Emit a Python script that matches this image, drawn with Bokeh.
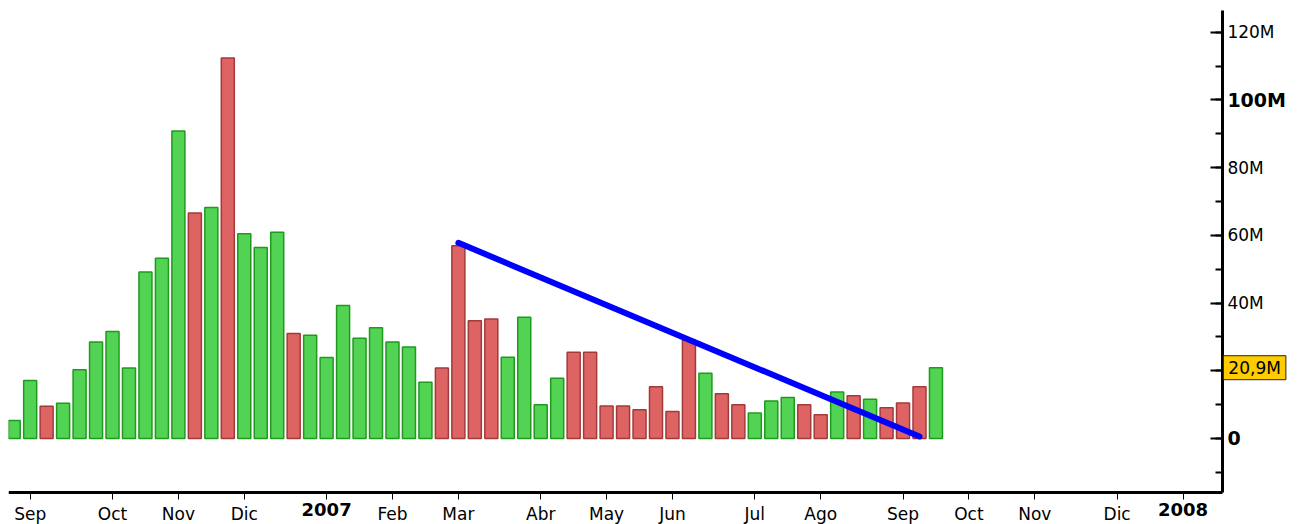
import pandas as pd
from bokeh.plotting import figure
from bokeh.models import Range1d, FixedTicker, SingleIntervalTicker, Label, ColumnDataSource, LinearAxis
from bokeh.embed import file_html
from bokeh.resources import INLINE

# Weekly volume (millions), week ending on Friday, starting 2006-08-25
first_week = "2006-08-25"
volume_m = [5.3, 17.1, 9.5, 10.4, 20.3, 28.5, 31.6, 20.8, 49.2, 53.2,
            90.8, 66.6, 68.2, 112.4, 60.5, 56.4, 60.9, 31.0, 30.5, 23.9,
            39.3, 29.6, 32.7, 28.5, 27.0, 16.6, 20.8, 56.9, 34.8, 35.3,
            24.0, 35.8, 10.0, 17.8, 25.5, 25.5, 9.6, 9.6, 8.5, 15.3,
            8.0, 29.1, 19.3, 13.2, 10.0, 7.5, 11.1, 12.1, 10.0, 7.0,
            13.7, 12.6, 11.6, 9.1, 10.5, 15.3, 20.9]
direction = ["up", "up", "down", "up", "up", "up", "up", "up", "up", "up",
             "up", "down", "up", "down", "up", "up", "up", "down", "up", "up",
             "up", "up", "up", "up", "up", "up", "down", "down", "down", "down",
             "up", "up", "up", "up", "down", "down", "down", "down", "down", "down",
             "down", "down", "up", "down", "down", "up", "up", "up", "down", "down",
             "up", "down", "up", "down", "down", "down", "up"]
month_names = ["", "Ene", "Feb", "Mar", "Abr", "May", "Jun", "Jul", "Ago", "Sep", "Oct", "Nov", "Dic"]
y_tick_labels = {120: "120M", 100: "100M", 80: "80M", 60: "60M", 40: "40M", 20: "20M", 0: "0"}
y_bold_ticks = [100, 0]
last_value_text = "20,9M"
trend_x = [27, 55]
trend_y = [57.8, 0.6]
n_axis_weeks = 74

# axis extents (data units)
x_axis_end = 73.39
y_axis_bottom = -15.95
y_axis_top = 126.4

weeks = pd.date_range(first_week, periods=n_axis_weeks, freq="W-FRI")
month_ticks, month_labels, year_ticks, year_labels = [], {}, [], {}
for i in range(1, n_axis_weeks):
    if weeks[i].month != weeks[i - 1].month:
        month_ticks.append(i)
        if weeks[i].month == 1:
            year_ticks.append(i)
            year_labels[i] = str(weeks[i].year)
            month_labels[i] = ""
        else:
            month_labels[i] = month_names[weeks[i].month]

fill_map = {"up": "#53d353", "down": "#de6464"}
line_map = {"up": "#1f9a1f", "down": "#a33a3a"}
src = ColumnDataSource(dict(
    x=list(range(len(volume_m))),
    top=volume_m,
    fill=[fill_map[d] for d in direction],
    line=[line_map[d] for d in direction],
))

p = figure(width=1295, height=524, output_backend="svg", toolbar_location=None,
           x_range=Range1d(-0.316, 77.83), y_range=Range1d(-25.40, 129.36),
           y_axis_location="right",
           min_border_left=8, min_border_right=0, min_border_top=0, min_border_bottom=0)
p.outline_line_color = None
p.xgrid.visible = False
p.ygrid.visible = False
p.background_fill_color = "white"
p.border_fill_color = "white"

p.vbar(x="x", top="top", bottom=0, width=0.79, fill_color="fill", line_color="line",
       line_width=1.5, source=src)
p.line(trend_x, trend_y, line_color="#0000ff", line_width=6, line_cap="round")

FONT = "DejaVu Sans"

# x axis (months)
xa = p.xaxis[0]
xa.fixed_location = y_axis_bottom
xa.bounds = (-0.316, x_axis_end)
xa.ticker = FixedTicker(ticks=month_ticks, minor_ticks=[])
xa.major_label_overrides = month_labels
xa.axis_line_width = 3
xa.axis_line_color = "black"
xa.major_tick_in = 0
xa.major_tick_out = 7
xa.major_tick_line_width = 1
xa.minor_tick_line_color = None
xa.major_label_standoff = 4
xa.major_label_text_font = FONT
xa.major_label_text_font_size = "17px"
xa.major_label_text_color = "black"

# x axis (bold years)
xy = LinearAxis(fixed_location=y_axis_bottom, bounds=(-0.316, x_axis_end),
                ticker=FixedTicker(ticks=year_ticks, minor_ticks=[]),
                major_label_overrides=year_labels,
                axis_line_color=None, major_tick_line_color=None, minor_tick_line_color=None,
                major_tick_in=0, major_tick_out=7, major_label_standoff=3,
                major_label_text_font=FONT, major_label_text_font_style="bold",
                major_label_text_font_size="18px", major_label_text_color="black")
p.add_layout(xy, "below")

# y axis
ya = p.yaxis[0]
ya.fixed_location = x_axis_end
ya.bounds = (y_axis_bottom, y_axis_top)
ya.ticker = SingleIntervalTicker(interval=20, num_minor_ticks=2)
ya.major_label_overrides = {k: ("" if (k in y_bold_ticks or k == 20) else v)
                            for k, v in y_tick_labels.items()}
ya.axis_line_width = 3
ya.axis_line_color = "black"
ya.major_tick_in = 12
ya.major_tick_out = 0
ya.minor_tick_in = 7
ya.minor_tick_out = 0
ya.major_tick_line_width = 2
ya.minor_tick_line_width = 2
ya.major_label_standoff = 5
ya.major_label_text_font = FONT
ya.major_label_text_font_size = "17px"
ya.major_label_text_color = "black"

# y axis bold labels
yb = LinearAxis(fixed_location=x_axis_end, bounds=(y_axis_bottom, y_axis_top),
                ticker=FixedTicker(ticks=y_bold_ticks, minor_ticks=[]),
                major_label_overrides={k: y_tick_labels[k] for k in y_bold_ticks},
                axis_line_color=None, major_tick_line_color=None, minor_tick_line_color=None,
                major_tick_in=0, major_tick_out=0, major_label_standoff=5,
                major_label_text_font=FONT, major_label_text_font_style="bold",
                major_label_text_font_size="19px", major_label_text_color="black")
p.add_layout(yb, "right")

# last value box
p.add_layout(Label(x=x_axis_end + 0.06, y=volume_m[-1], text=last_value_text, text_align="left",
                   text_baseline="middle", text_font=FONT, text_font_size="17px",
                   text_color="black", background_fill_color="#ffcc00",
                   border_line_color="#222222", border_line_width=1, padding=(5, 2)))

open("out.html", "w").write(file_html(p, INLINE))
